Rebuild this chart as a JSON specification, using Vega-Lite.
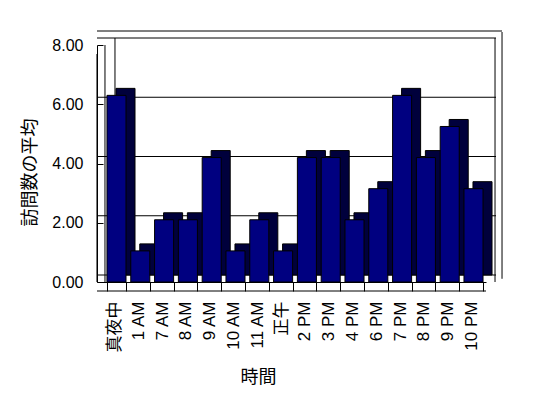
{
  "$schema": "https://vega.github.io/schema/vega-lite/v6.json",
  "width": 389,
  "height": 237,
  "autosize": {"type": "none"},
  "padding": {"left": 97, "top": 45, "right": 62, "bottom": 116},
  "background": "white",
  "config": {"view": {"stroke": null}, "font": "Liberation Sans, Noto Sans CJK JP"},
  "datasets": {
    "visits": [
      {"hour": "真夜中", "avg": 6.3},
      {"hour": "1 AM", "avg": 1.05},
      {"hour": "7 AM", "avg": 2.1},
      {"hour": "8 AM", "avg": 2.1},
      {"hour": "9 AM", "avg": 4.2},
      {"hour": "10 AM", "avg": 1.05},
      {"hour": "11 AM", "avg": 2.1},
      {"hour": "正午", "avg": 1.05},
      {"hour": "2 PM", "avg": 4.2},
      {"hour": "3 PM", "avg": 4.2},
      {"hour": "4 PM", "avg": 2.1},
      {"hour": "6 PM", "avg": 3.15},
      {"hour": "7 PM", "avg": 6.3},
      {"hour": "8 PM", "avg": 4.2},
      {"hour": "9 PM", "avg": 5.25},
      {"hour": "10 PM", "avg": 3.15}
    ],
    "grid": [{"v": 0}, {"v": 2}, {"v": 4}, {"v": 6}, {"v": 8}],
    "one": [{"k": 1}]
  },
  "data": {"name": "visits"},
  "layer": [
    {
      "data": {"name": "grid"},
      "mark": {"type": "rule", "xOffset": 10, "yOffset": -7, "color": "black", "strokeWidth": 1},
      "encoding": {"y": {"field": "v", "type": "quantitative"}}
    },
    {
      "data": {"name": "one"},
      "mark": {"type": "rule", "xOffset": 16, "yOffset": -14, "color": "black", "strokeWidth": 1},
      "encoding": {"y": {"datum": 8, "type": "quantitative"}}
    },
    {
      "data": {"name": "one"},
      "mark": {"type": "rule", "xOffset": 12, "yOffset": -7, "color": "black", "strokeWidth": 1},
      "encoding": {"x": {"datum": "10 PM", "type": "nominal", "bandPosition": 1}}
    },
    {
      "data": {"name": "one"},
      "mark": {"type": "rule", "xOffset": 19, "yOffset": -13, "y2Offset": -13, "color": "black", "strokeWidth": 1},
      "encoding": {
        "x": {"datum": "10 PM", "type": "nominal", "bandPosition": 1},
        "y": {"datum": 8, "type": "quantitative"},
        "y2": {"datum": -0.33}
      }
    },
    {
      "data": {"name": "one"},
      "mark": {"type": "rule", "xOffset": 8, "yOffset": -7, "color": "black", "strokeWidth": 1},
      "encoding": {"x": {"datum": "真夜中", "type": "nominal", "bandPosition": 0}}
    },
    {
      "data": {"name": "one"},
      "mark": {"type": "rule", "xOffset": -2, "color": "black", "strokeWidth": 1},
      "encoding": {"x": {"datum": "真夜中", "type": "nominal", "bandPosition": 0}}
    },
    {
      "data": {"name": "one"},
      "mark": {"type": "rule", "xOffset": -10, "yOffset": 9, "color": "black", "strokeWidth": 1},
      "encoding": {"x": {"datum": "真夜中", "type": "nominal", "bandPosition": 0}}
    },
    {
      "data": {"name": "one"},
      "mark": {"type": "rule", "yOffset": 9, "color": "black", "strokeWidth": 1},
      "encoding": {"y": {"datum": 0, "type": "quantitative"}}
    },
    {
      "mark": {"type": "bar", "xOffset": 9, "yOffset": -7, "fill": "#00003c", "stroke": "black", "strokeWidth": 1},
      "encoding": {
        "x": {"field": "hour", "type": "nominal"},
        "y": {"field": "avg", "type": "quantitative"}
      }
    },
    {
      "mark": {"type": "bar", "fill": "#000080", "stroke": "black", "strokeWidth": 1},
      "encoding": {
        "x": {
          "field": "hour",
          "type": "nominal",
          "sort": null,
          "scale": {
            "domain": ["真夜中", "1 AM", "7 AM", "8 AM", "9 AM", "10 AM", "11 AM", "正午", "2 PM", "3 PM", "4 PM", "6 PM", "7 PM", "8 PM", "9 PM", "10 PM"],
            "paddingInner": 0.2,
            "paddingOuter": 0.272,
            "align": 0.77,
            "round": false
          },
          "axis": {
            "title": "時間",
            "labelAngle": -90,
            "labelFontSize": 17,
            "labelColor": "black",
            "labelPadding": 10,
            "labelOffset": -2,
            "tickBand": "extent",
            "tickSize": 9,
            "tickColor": "black",
            "domainColor": "black",
            "grid": false,
            "titleFontSize": 18,
            "titleColor": "black",
            "titleFontWeight": "normal",
            "titleX": 161,
            "titleY": 95,
            "titleBaseline": "middle",
            "titleAlign": "center"
          }
        },
        "y": {
          "field": "avg",
          "type": "quantitative",
          "scale": {"domain": [0, 8], "nice": false, "zero": true},
          "axis": {
            "title": "訪問数の平均",
            "values": [0, 2, 4, 6, 8],
            "format": ".2f",
            "labelFontSize": 16,
            "labelColor": "black",
            "tickSize": -6,
            "labelPadding": 20,
            "tickColor": "black",
            "domainColor": "black",
            "grid": false,
            "titleFontSize": 18,
            "titleColor": "black",
            "titleFontWeight": "normal",
            "titleX": -67,
            "titleY": 127,
            "titleAngle": -90,
            "titleBaseline": "middle",
            "titleAlign": "center"
          }
        }
      }
    }
  ]
}
